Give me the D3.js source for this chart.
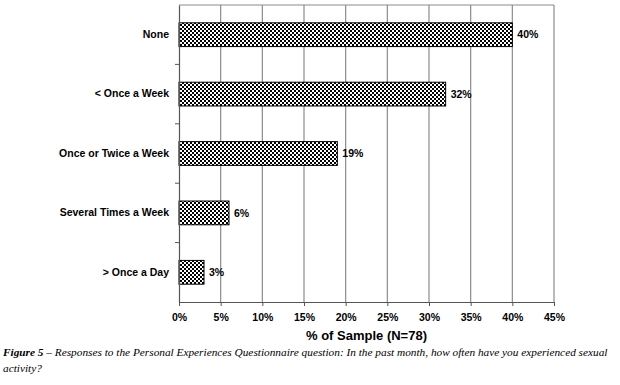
<!DOCTYPE html>
<html>
<head>
<meta charset="utf-8">
<script src="https://cdn.jsdelivr.net/npm/d3@7"></script>
<style>
body { margin: 0; background: #fff; }
svg { display: block; }
</style>
</head>
<body>
<svg id="chart" width="620" height="385"></svg>
<script>
var categories = ["None", "< Once a Week", "Once or Twice a Week", "Several Times a Week", "> Once a Day"]
var values = [40, 32, 19, 6, 3]
var valueLabels = ["40%", "32%", "19%", "6%", "3%"]
var xTicks = [0, 5, 10, 15, 20, 25, 30, 35, 40, 45]
var axisTitle = "% of Sample (N=78)"
var captionLead = "Figure 5"
var captionLine1 = " \u2013 Responses to the Personal Experiences Questionnaire question: In the past month, how often have you experienced sexual"
var captionLine2 = "activity?"

var svg = d3.select("#chart")
var plot = {x0: 179, x1: 554, y0: 5, y1: 302}

var x = d3.scaleLinear().domain([0, 45]).range([plot.x0, plot.x1])
var y = d3.scaleBand().domain(categories).range([plot.y0, plot.y1]).paddingInner(0.6).paddingOuter(0.3)
var yb = d3.scaleBand().domain(categories).range([plot.y0, plot.y1])

// checker fill
var defs = svg.append("defs")
var pat = defs.append("pattern")
  .attr("id", "checks")
  .attr("patternUnits", "userSpaceOnUse")
  .attr("width", 4).attr("height", 4)
pat.append("rect").attr("width", 4).attr("height", 4).attr("fill", "#fff")
pat.append("rect").attr("width", 2).attr("height", 2).attr("fill", "#000")
pat.append("rect").attr("x", 2).attr("y", 2).attr("width", 2).attr("height", 2).attr("fill", "#000")

// gridlines
svg.append("g")
  .selectAll("line")
  .data(xTicks.slice(1))
  .enter()
  .append("line")
  .attr("x1", function(d){ return x(d) })
  .attr("x2", function(d){ return x(d) })
  .attr("y1", plot.y0)
  .attr("y2", plot.y1)
  .attr("stroke", "#8c8c8c")
  .attr("stroke-width", 1.2)

svg.append("line")
  .attr("x1", plot.x0).attr("x2", plot.x1)
  .attr("y1", plot.y0).attr("y2", plot.y0)
  .attr("stroke", "#8c8c8c").attr("stroke-width", 1.2)

// bars
svg.append("g")
  .selectAll("rect")
  .data(values)
  .enter()
  .append("rect")
  .attr("x", x(0))
  .attr("y", function(d, i){ return y(categories[i]) })
  .attr("width", function(d){ return x(d) - x(0) })
  .attr("height", y.bandwidth())
  .attr("fill", "url(#checks)")
  .attr("stroke", "#000")
  .attr("stroke-width", 1)

// value labels
svg.append("g")
  .selectAll("text")
  .data(values)
  .enter()
  .append("text")
  .attr("x", function(d){ return x(d) + 5 })
  .attr("y", function(d, i){ return y(categories[i]) + y.bandwidth() / 2 })
  .attr("dy", "0.35em")
  .style("font-family", "Liberation Sans, Arial, sans-serif")
  .style("font-weight", "bold")
  .style("font-size", "10.5px")
  .text(function(d, i){ return valueLabels[i] })

// x axis
var xAxis = d3.axisBottom(x)
  .tickValues(xTicks)
  .tickSize(4)
  .tickSizeOuter(0)
  .tickPadding(8)
  .tickFormat(function(d){ return d + "%" })

var gx = svg.append("g")
  .attr("transform", "translate(0," + plot.y1 + ")")
  .call(xAxis)
gx.select(".domain").attr("stroke", "#555").attr("stroke-width", 1.2)
gx.selectAll(".tick line").attr("stroke", "#555")
gx.selectAll("text")
  .style("font-family", "Liberation Sans, Arial, sans-serif")
  .style("font-weight", "bold")
  .style("font-size", "10.5px")
  .attr("fill", "#000")

// y axis
var yAxis = d3.axisLeft(yb).tickSize(0).tickPadding(10)
var gy = svg.append("g")
  .attr("transform", "translate(" + plot.x0 + ",0)")
  .call(yAxis)
gy.select(".domain").attr("stroke", "#555").attr("stroke-width", 1.2)
gy.selectAll("text")
  .style("font-family", "Liberation Sans, Arial, sans-serif")
  .style("font-weight", "bold")
  .style("font-size", "10.5px")
  .attr("fill", "#000")

// small ticks between categories
svg.append("g")
  .selectAll("line")
  .data(categories.slice(1))
  .enter()
  .append("line")
  .attr("x1", plot.x0 - 4).attr("x2", plot.x0)
  .attr("y1", function(d){ return yb(d) })
  .attr("y2", function(d){ return yb(d) })
  .attr("stroke", "#555")

svg.append("text")
  .attr("x", (plot.x0 + plot.x1) / 2)
  .attr("y", 340)
  .style("text-anchor", "middle")
  .style("font-family", "Liberation Sans, Arial, sans-serif")
  .style("font-weight", "bold")
  .style("font-size", "13px")
  .text(axisTitle)

var cap = svg.append("text")
  .attr("x", 3)
  .attr("y", 356)
  .style("font-family", "Liberation Serif, Times New Roman, serif")
  .style("font-style", "italic")
  .style("font-size", "11.3px")
cap.append("tspan").style("font-weight", "bold").text(captionLead)
cap.append("tspan").text(captionLine1)

svg.append("text")
  .attr("x", 3)
  .attr("y", 372)
  .style("font-family", "Liberation Serif, Times New Roman, serif")
  .style("font-style", "italic")
  .style("font-size", "11.3px")
  .text(captionLine2)
</script>
</body>
</html>
